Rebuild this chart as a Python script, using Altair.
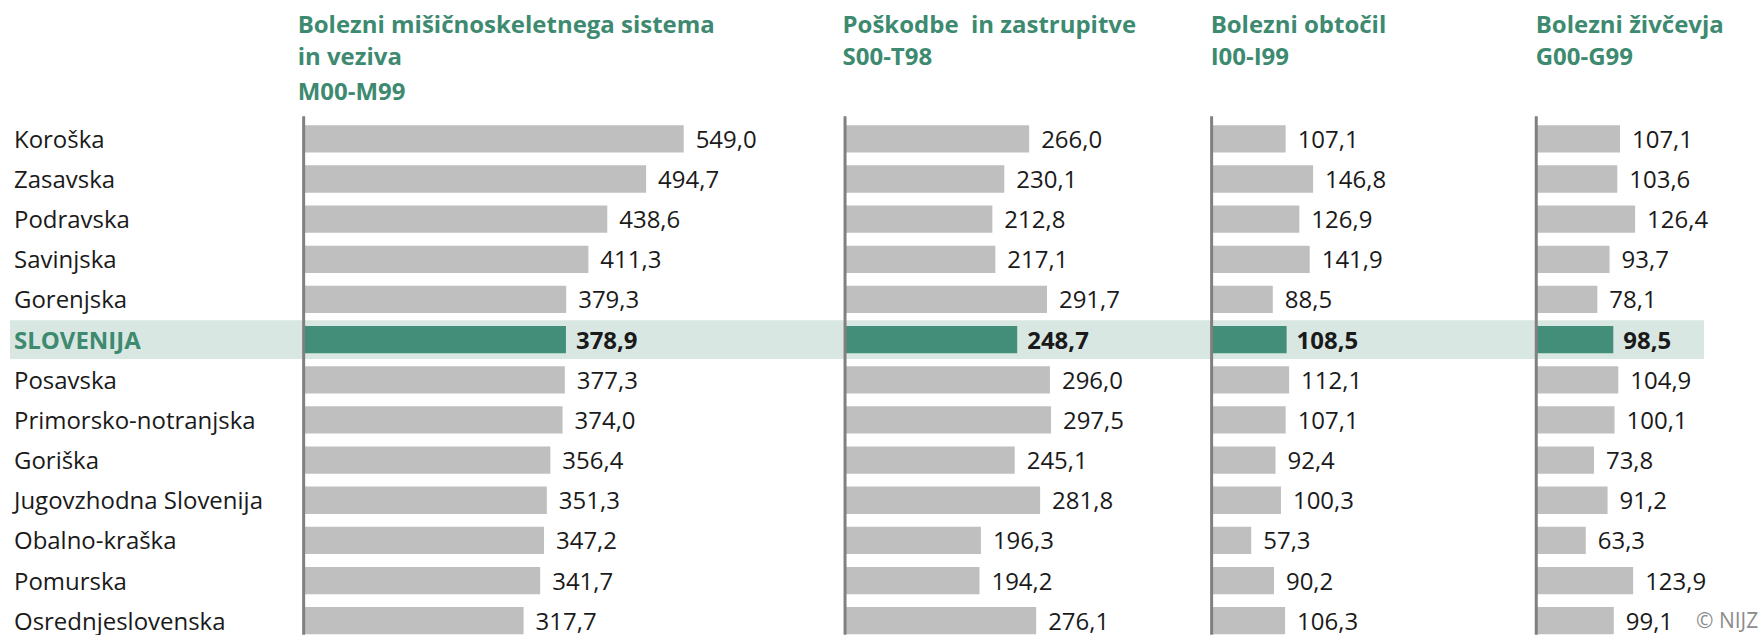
import altair as alt
import pandas as pd

regions = ["Koroška", "Zasavska", "Podravska", "Savinjska", "Gorenjska", "SLOVENIJA",
           "Posavska", "Primorsko-notranjska", "Goriška", "Jugovzhodna Slovenija",
           "Obalno-kraška", "Pomurska", "Osrednjeslovenska"]
m00_m99 = [549.0, 494.7, 438.6, 411.3, 379.3, 378.9, 377.3, 374.0, 356.4, 351.3, 347.2, 341.7, 317.7]
s00_t98 = [266.0, 230.1, 212.8, 217.1, 291.7, 248.7, 296.0, 297.5, 245.1, 281.8, 196.3, 194.2, 276.1]
i00_i99 = [107.1, 146.8, 126.9, 141.9, 88.5, 108.5, 112.1, 107.1, 92.4, 100.3, 57.3, 90.2, 106.3]
g00_g99 = [107.1, 103.6, 126.4, 93.7, 78.1, 98.5, 104.9, 100.1, 73.8, 91.2, 63.3, 123.9, 99.1]
titles = [
    ["Bolezni mišičnoskeletnega sistema", "in veziva", "M00-M99"],
    ["Poškodbe\u00a0 in zastrupitve", "S00-T98"],
    ["Bolezni obtočil", "I00-I99"],
    ["Bolezni živčevja", "G00-G99"],
]
series = [m00_m99, s00_t98, i00_i99, g00_g99]
highlight = "SLOVENIJA"
credit = "© NIJZ"

FONT = "Open Sans"
GREEN_T = "#3d8a70"
GREEN_BAR = "#428e78"
BAND = "#d9e7e2"
GRAY = "#bfbfbf"
AXIS = "#808080"
TXT = "#1a1a1a"

H = 635
LABEL_W = 304
panel_w = [541.5, 366.5, 324.5, 226.5]
px_per_unit = [0.693, 0.693, 0.692, 0.783]
title_dx = [-6, -2.5, -1, -0.5]
band_end = [541.5, 366.5, 324.5, 168]
title_y = [33, 65, 100]

yscale = alt.Scale(domain=regions, paddingInner=0.321, paddingOuter=0, range=[125, 634.7])


def ydef():
    return alt.Y("region:N", sort=regions, scale=yscale, axis=None)


dummy = pd.DataFrame({"k": [0]})
is_hl = f"datum.region === '{highlight}'"
not_hl = f"datum.region !== '{highlight}'"

# label column
lab_df = pd.DataFrame({"region": regions})
band0 = alt.Chart(lab_df).transform_filter(is_hl).mark_bar(size=39, color=BAND).encode(
    y=ydef(), x=alt.value(10), x2=alt.value(LABEL_W))
labs = alt.Chart(lab_df).transform_filter(not_hl).mark_text(
    align="left", baseline="middle", font=FONT, fontSize=24, color=TXT, dy=2).encode(
    y=ydef(), x=alt.value(14), text="region:N")
labs_hl = alt.Chart(lab_df).transform_filter(is_hl).mark_text(
    align="left", baseline="middle", font=FONT, fontSize=24, fontWeight="bold",
    color=GREEN_T, dy=2).encode(y=ydef(), x=alt.value(14), text="region:N")
label_panel = alt.layer(band0, labs, labs_hl).properties(width=LABEL_W, height=H)

panels = [label_panel]
for i, vals in enumerate(series):
    w = panel_w[i]
    df = pd.DataFrame({"region": regions, "value": vals})
    xs = alt.Scale(domain=[0, w / px_per_unit[i]], nice=False, zero=True)
    X = alt.X("value:Q", scale=xs, axis=None)
    band = alt.Chart(df).transform_filter(is_hl).mark_bar(size=39, color=BAND).encode(
        y=ydef(), x=alt.value(0), x2=alt.value(band_end[i]))
    bars = alt.Chart(df).mark_bar().encode(
        y=ydef(), x=X,
        color=alt.condition(is_hl, alt.value(GREEN_BAR), alt.value(GRAY)))
    base_txt = alt.Chart(df).transform_calculate(
        lbl="replace(format(datum.value, '.1f'), '.', ',')")
    vt = base_txt.transform_filter(not_hl).mark_text(
        align="left", baseline="middle", dx=12, dy=2, font=FONT, fontSize=24, color=TXT).encode(
        y=ydef(), x=X, text="lbl:N")
    vt_hl = base_txt.transform_filter(is_hl).mark_text(
        align="left", baseline="middle", dx=10, dy=2, font=FONT, fontSize=24,
        fontWeight="bold", color=TXT).encode(y=ydef(), x=X, text="lbl:N")
    rule = alt.Chart(dummy).mark_rule(color=AXIS, strokeWidth=3).encode(
        x=alt.value(0), y=alt.value(116), y2=alt.value(H))
    layers = [band, bars, vt, vt_hl, rule]
    for j, line in enumerate(titles[i]):
        layers.append(alt.Chart(dummy).mark_text(
            align="left", baseline="alphabetic", font=FONT, fontSize=24, fontWeight="bold",
            color=GREEN_T).encode(x=alt.value(title_dx[i]), y=alt.value(title_y[j]),
                                  text=alt.value(line)))
    if i == len(series) - 1:
        layers.append(alt.Chart(dummy).mark_text(
            align="left", baseline="middle", font=FONT, fontSize=21, color="#8c8c8c", dy=1).encode(
            x=alt.value(160), y=alt.value(621), text=alt.value(credit)))
    panels.append(alt.layer(*layers).properties(width=w, height=H))

chart = alt.hconcat(*panels, spacing=0, bounds="flush").properties(
    padding=0, background="white"
).configure_view(stroke=None)

chart.save("out.html", embed_options={"renderer": "svg", "actions": False})
